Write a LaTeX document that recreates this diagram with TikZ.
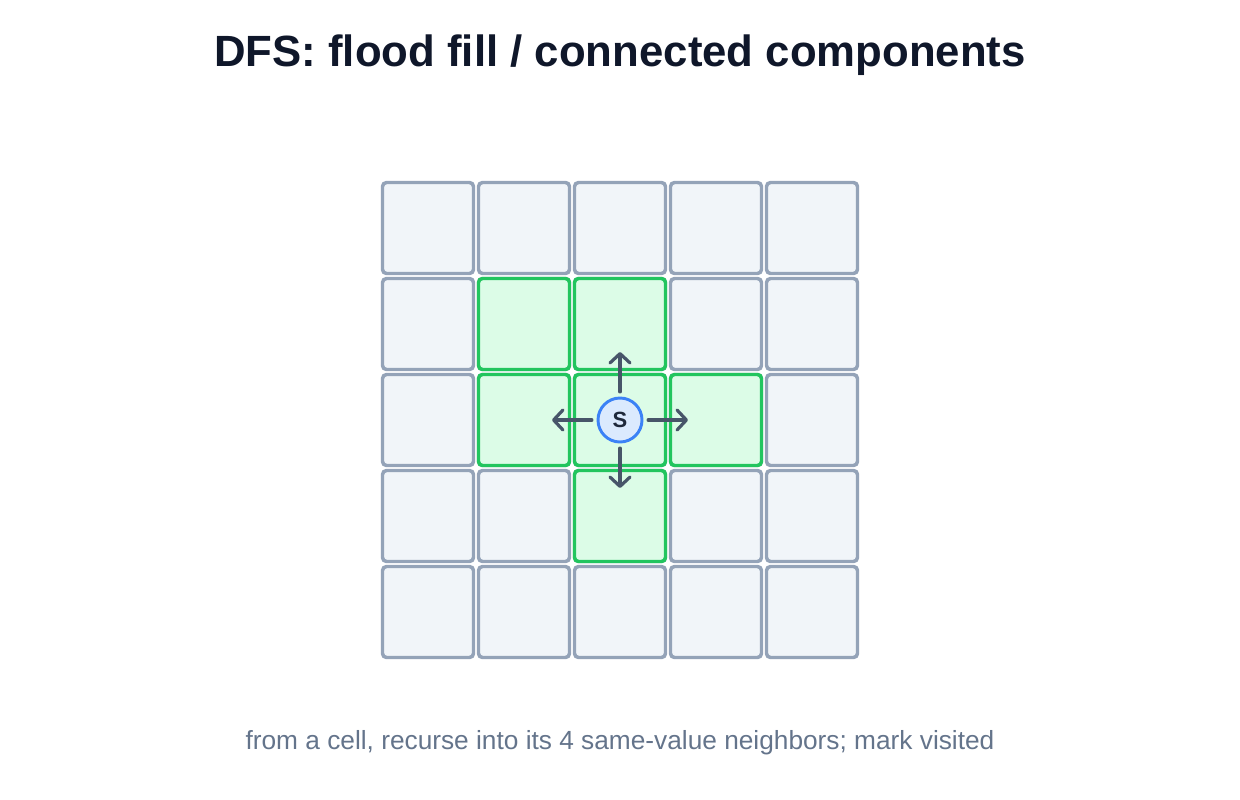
\documentclass[tikz,border=0pt]{standalone}
\usepackage{fontspec}
\setmainfont{Liberation Sans}
\usetikzlibrary{arrows.meta}
\definecolor{gridstroke}{HTML}{94A3B8}
\definecolor{gridfill}{HTML}{F1F5F9}
\definecolor{greenstroke}{HTML}{22C55E}
\definecolor{greenfill}{HTML}{DCFCE7}
\definecolor{titlecol}{HTML}{0F172A}
\definecolor{subcol}{HTML}{64748B}
\definecolor{arrowcol}{HTML}{475569}
\definecolor{sfill}{HTML}{DBEAFE}
\definecolor{sstroke}{HTML}{3B82F6}
\definecolor{stext}{HTML}{1E293B}
\tikzset{
  cellbox/.style={draw=gridstroke, fill=gridfill, line width=2.6pt, rounded corners=3pt, minimum width=68.25pt, minimum height=68.25pt, inner sep=0pt, outer sep=0pt},
  greenbox/.style={cellbox, draw=greenstroke, fill=greenfill},
  startnode/.style={circle, draw=sstroke, fill=sfill, line width=2.2pt, minimum size=33pt, inner sep=0pt, font=\bfseries\fontsize{16.5}{19}\selectfont, text=stext},
  dirarrow/.style={draw=arrowcol, line width=2.4pt, line cap=round, -{Straight Barb[length=7pt, width=15pt, line cap=round, line join=round]}, shorten <=3.5pt}
}
\begin{document}
\begin{tikzpicture}[x=0.75pt, y=-0.75pt]
\useasboundingbox (0,0) rectangle (1240,800);
\node[font=\bfseries\fontsize{32.8}{38}\selectfont, text=titlecol] (title) at (620,55) {DFS: flood fill / connected components};
\foreach \i in {0,...,4}{
  \foreach \j in {0,...,4}{
    \node[cellbox] (c-\i-\j) at ({428+96*\i},{228+96*\j}) {};
  }
}
\foreach \i/\j in {1/1,2/1,1/2,2/2,3/2,2/3}{
  \node[greenbox] (g-\i-\j) at ({428+96*\i},{228+96*\j}) {};
}
\node[startnode] (s) at (620,420) {S};
\coordinate (up) at (620,352);
\coordinate (down) at (620,488);
\coordinate (left) at (552,420);
\coordinate (right) at (688,420);
\draw[dirarrow] (s) -- (up);
\draw[dirarrow] (s) -- (down);
\draw[dirarrow] (s) -- (left);
\draw[dirarrow] (s) -- (right);
\node[font=\fontsize{19.7}{23}\selectfont, text=subcol] (sub) at (620,743) {from a cell, recurse into its 4 same-value neighbors; mark visited};
\end{tikzpicture}
\end{document}
